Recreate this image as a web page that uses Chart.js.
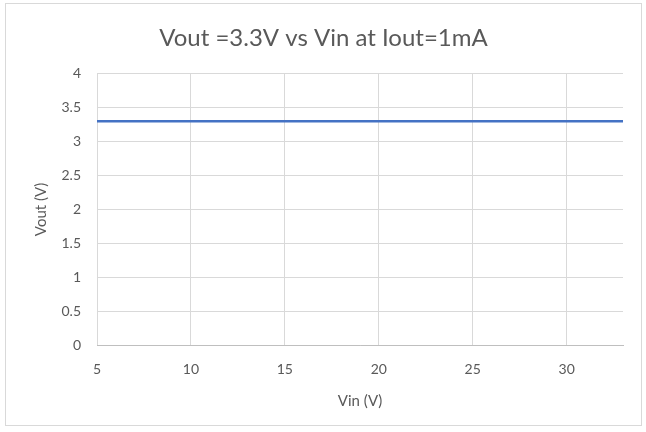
<!DOCTYPE html>
<html>
<head>
<meta charset="utf-8">
<script src="https://cdn.jsdelivr.net/npm/chart.js@4"></script>
<style>
html,body{margin:0;padding:0;background:#fff;}
#wrap{position:relative;width:646px;height:432px;}
#frame{position:absolute;left:5px;top:3px;width:635px;height:421px;border:1px solid #d9d9d9;pointer-events:none;}
canvas{position:absolute;left:0;top:0;}
</style>
</head>
<body>
<div id="wrap">
<canvas id="c" width="646" height="432"></canvas>
<div id="frame"></div>
</div>
<script>
const titleText = "Vout =3.3V vs Vin at Iout=1mA";
const xTitle = "Vin (V)";
const yTitle = "Vout (V)";
const vin = [5, 10, 15, 20, 25, 30, 33];
const vout = [3.3, 3.3, 3.3, 3.3, 3.3, 3.3, 3.3];
const xTicks = [5, 10, 15, 20, 25, 30];
const yTicks = [0, 0.5, 1, 1.5, 2, 2.5, 3, 3.5, 4];

const txt = '#595959';
const grid = '#d9d9d9';
const font = "Lato, 'Open Sans', 'Liberation Sans', sans-serif";

new Chart(document.getElementById('c'), {
  type: 'scatter',
  data: {
    datasets: [{
      data: vin.map((x, i) => ({x: x, y: vout[i]})),
      showLine: true,
      borderColor: '#4472C4',
      backgroundColor: '#4472C4',
      borderWidth: 2.5,
      pointRadius: 0,
      tension: 0
    }]
  },
  options: {
    responsive: false,
    animation: false,
    layout: {padding: {left: 24, right: 23, top: 24, bottom: 18}},
    plugins: {
      legend: {display: false},
      tooltip: {enabled: false},
      title: {
        display: true,
        text: titleText,
        color: txt,
        font: {family: font, size: 24, weight: 'normal', lineHeight: 1.2},
        padding: {top: 0, bottom: 21}
      }
    },
    scales: {
      x: {
        type: 'linear',
        min: 5, max: 33,
        afterBuildTicks: s => { s.ticks = xTicks.map(v => ({value: v})); },
        afterFit: s => { s.height = 432 - 345 - 18; },
        grid: {color: grid, drawTicks: false},
        border: {color: '#bfbfbf'},
        ticks: {color: txt, font: {family: font, size: 14}, padding: 16, maxRotation: 0, callback: v => String(v)},
        title: {display: true, text: xTitle, color: txt, font: {family: font, size: 15}, padding: {top: 10}}
      },
      y: {
        min: 0, max: 4,
        afterBuildTicks: s => { s.ticks = yTicks.map(v => ({value: v})); },
        afterFit: s => { s.width = 97 - 24; },
        grid: {color: grid, drawTicks: false},
        border: {display: false},
        ticks: {color: txt, font: {family: font, size: 14}, padding: 16, callback: v => String(v)},
        title: {display: true, text: yTitle, color: txt, font: {family: font, size: 15}, padding: {top: 8, bottom: 8}}
      }
    }
  }
});
</script>
</body>
</html>
